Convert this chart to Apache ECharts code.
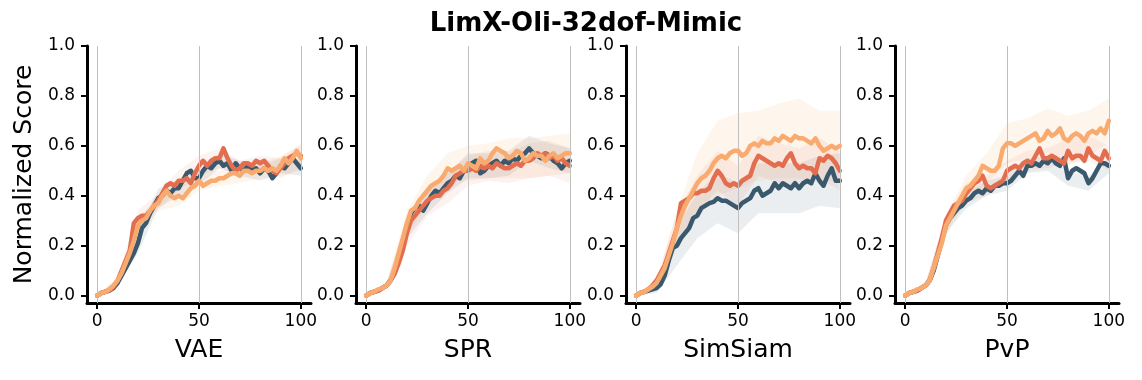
<!DOCTYPE html>
<html>
<head>
<meta charset="utf-8">
<script src="https://cdn.jsdelivr.net/npm/echarts@6/dist/echarts.min.js"></script>
<style>
  html, body { margin: 0; padding: 0; background: #fff; }
  #chart { width: 1142px; height: 380px; }
</style>
</head>
<body>
<div id="chart"></div>
<script>
// training progress (x) at which the curves are sampled
const steps = [0, 2, 4, 6, 8, 10, 12, 14, 16, 18, 20, 22, 24, 26, 28, 30, 32, 34, 36, 38, 40,
  42, 44, 46, 48, 50, 52, 54, 56, 58, 60, 62, 64, 66, 68, 70, 72, 74, 76, 78, 80,
  82, 84, 86, 88, 90, 92, 94, 96, 98, 100]
const bandSteps = [0, 10, 20, 30, 40, 50, 60, 70, 80, 90, 100]

const panels = ['VAE', 'SPR', 'SimSiam', 'PvP']
const xTicks = [0, 50, 100]
const yTicks = [0, 0.2, 0.4, 0.6, 0.8, 1.0]

// mean curves: dark, red, orange per panel
const vaeDark = [0, 0.01, 0.015, 0.02, 0.03, 0.05, 0.08, 0.11, 0.14, 0.17, 0.21, 0.27, 0.29, 0.33, 0.36, 0.39, 0.40, 0.42, 0.41, 0.43, 0.43,
  0.46, 0.49, 0.50, 0.47, 0.47, 0.50, 0.52, 0.51, 0.53, 0.54, 0.52, 0.53, 0.50, 0.53, 0.51, 0.50, 0.52, 0.50, 0.51, 0.49,
  0.51, 0.50, 0.47, 0.49, 0.52, 0.51, 0.53, 0.55, 0.53, 0.51]
const vaeRed = [0, 0.01, 0.015, 0.02, 0.035, 0.06, 0.10, 0.14, 0.18, 0.29, 0.31, 0.32, 0.32, 0.34, 0.36, 0.38, 0.41, 0.44, 0.45, 0.44, 0.46,
  0.46, 0.47, 0.45, 0.49, 0.52, 0.54, 0.52, 0.54, 0.55, 0.55, 0.59, 0.55, 0.52, 0.50, 0.51, 0.53, 0.53, 0.52, 0.54, 0.53,
  0.54, 0.52, 0.50, 0.49, 0.51, 0.53, 0.55, 0.56, 0.57, 0.56]
const vaeOrange = [0, 0.01, 0.015, 0.025, 0.04, 0.06, 0.09, 0.13, 0.17, 0.22, 0.28, 0.30, 0.31, 0.34, 0.36, 0.37, 0.40, 0.42, 0.40, 0.39, 0.40,
  0.39, 0.41, 0.43, 0.44, 0.46, 0.44, 0.45, 0.46, 0.46, 0.47, 0.47, 0.48, 0.49, 0.49, 0.48, 0.50, 0.50, 0.49, 0.50, 0.50,
  0.51, 0.50, 0.51, 0.50, 0.52, 0.55, 0.53, 0.55, 0.58, 0.55]

const sprDark = [0, 0.01, 0.015, 0.02, 0.03, 0.04, 0.06, 0.09, 0.14, 0.20, 0.27, 0.33, 0.35, 0.36, 0.34, 0.37, 0.40, 0.42, 0.41, 0.43, 0.45,
  0.46, 0.48, 0.47, 0.50, 0.52, 0.53, 0.54, 0.49, 0.50, 0.52, 0.53, 0.54, 0.52, 0.54, 0.53, 0.55, 0.54, 0.56, 0.57, 0.59,
  0.57, 0.56, 0.55, 0.57, 0.56, 0.54, 0.53, 0.51, 0.53, 0.54]
const sprRed = [0, 0.01, 0.015, 0.02, 0.03, 0.04, 0.06, 0.09, 0.13, 0.18, 0.25, 0.30, 0.32, 0.34, 0.36, 0.38, 0.39, 0.40, 0.40, 0.42, 0.43,
  0.45, 0.48, 0.49, 0.50, 0.50, 0.51, 0.50, 0.52, 0.51, 0.52, 0.51, 0.53, 0.52, 0.51, 0.51, 0.52, 0.53, 0.52, 0.54, 0.54,
  0.55, 0.57, 0.56, 0.57, 0.55, 0.56, 0.54, 0.55, 0.53, 0.52]
const sprOrange = [0, 0.01, 0.015, 0.025, 0.03, 0.04, 0.06, 0.11, 0.17, 0.23, 0.29, 0.34, 0.35, 0.38, 0.40, 0.42, 0.44, 0.45, 0.46, 0.48, 0.51,
  0.50, 0.51, 0.52, 0.50, 0.53, 0.52, 0.51, 0.55, 0.53, 0.54, 0.57, 0.59, 0.58, 0.57, 0.55, 0.56, 0.58, 0.57, 0.54, 0.55,
  0.57, 0.56, 0.56, 0.54, 0.56, 0.57, 0.55, 0.56, 0.57, 0.57]

const simDark = [0, 0.01, 0.015, 0.02, 0.025, 0.03, 0.045, 0.08, 0.14, 0.19, 0.20, 0.23, 0.25, 0.27, 0.31, 0.32, 0.35, 0.36, 0.37, 0.375, 0.39,
  0.38, 0.38, 0.37, 0.36, 0.35, 0.37, 0.38, 0.39, 0.42, 0.43, 0.40, 0.41, 0.42, 0.45, 0.43, 0.45, 0.44, 0.43, 0.45, 0.43,
  0.45, 0.46, 0.45, 0.49, 0.46, 0.44, 0.48, 0.51, 0.46, 0.46]
const simRed = [0, 0.01, 0.015, 0.025, 0.04, 0.06, 0.09, 0.12, 0.17, 0.22, 0.27, 0.37, 0.38, 0.39, 0.41, 0.41, 0.42, 0.42, 0.43, 0.47, 0.50,
  0.48, 0.45, 0.44, 0.45, 0.44, 0.46, 0.47, 0.48, 0.53, 0.56, 0.55, 0.54, 0.53, 0.52, 0.53, 0.52, 0.55, 0.57, 0.53, 0.51,
  0.52, 0.51, 0.51, 0.49, 0.55, 0.54, 0.56, 0.55, 0.53, 0.50]
const simOrange = [0, 0.01, 0.015, 0.025, 0.035, 0.05, 0.08, 0.11, 0.16, 0.21, 0.27, 0.32, 0.36, 0.39, 0.42, 0.45, 0.47, 0.48, 0.50, 0.53, 0.55,
  0.56, 0.55, 0.57, 0.58, 0.58, 0.56, 0.57, 0.60, 0.61, 0.60, 0.62, 0.61, 0.61, 0.63, 0.62, 0.64, 0.63, 0.62, 0.64, 0.63,
  0.63, 0.62, 0.61, 0.63, 0.60, 0.58, 0.59, 0.60, 0.59, 0.60]

const pvpDark = [0, 0.01, 0.015, 0.02, 0.03, 0.04, 0.06, 0.10, 0.16, 0.22, 0.28, 0.31, 0.33, 0.35, 0.36, 0.38, 0.39, 0.41, 0.42, 0.41, 0.43,
  0.42, 0.44, 0.44, 0.45, 0.45, 0.46, 0.48, 0.50, 0.48, 0.52, 0.52, 0.53, 0.52, 0.54, 0.53, 0.55, 0.53, 0.52, 0.55, 0.47,
  0.50, 0.51, 0.50, 0.49, 0.45, 0.47, 0.50, 0.53, 0.53, 0.52]
const pvpRed = [0, 0.01, 0.015, 0.02, 0.03, 0.04, 0.06, 0.11, 0.17, 0.23, 0.30, 0.33, 0.36, 0.37, 0.38, 0.41, 0.43, 0.45, 0.46, 0.48, 0.44,
  0.43, 0.44, 0.45, 0.46, 0.50, 0.51, 0.52, 0.51, 0.53, 0.54, 0.53, 0.56, 0.59, 0.55, 0.55, 0.56, 0.55, 0.54, 0.53, 0.58,
  0.55, 0.56, 0.56, 0.54, 0.59, 0.56, 0.55, 0.54, 0.58, 0.55]
const pvpOrange = [0, 0.01, 0.015, 0.025, 0.03, 0.04, 0.06, 0.11, 0.16, 0.21, 0.28, 0.31, 0.34, 0.37, 0.40, 0.43, 0.44, 0.46, 0.48, 0.52, 0.51,
  0.50, 0.50, 0.52, 0.59, 0.61, 0.61, 0.60, 0.61, 0.62, 0.63, 0.64, 0.65, 0.62, 0.63, 0.66, 0.64, 0.65, 0.67, 0.63, 0.62,
  0.64, 0.65, 0.64, 0.62, 0.65, 0.66, 0.65, 0.67, 0.65, 0.70]

// spread (half width of shaded band) at bandSteps
const vaeDarkStd = [0, 0.01, 0.04, 0.04, 0.03, 0.03, 0.03, 0.03, 0.03, 0.03, 0.03]
const vaeRedStd = [0, 0.01, 0.03, 0.03, 0.04, 0.04, 0.04, 0.03, 0.03, 0.04, 0.05]
const vaeOrangeStd = [0, 0.01, 0.03, 0.03, 0.04, 0.04, 0.03, 0.03, 0.03, 0.04, 0.05]
const sprDarkStd = [0, 0.01, 0.04, 0.04, 0.04, 0.05, 0.05, 0.05, 0.05, 0.05, 0.05]
const sprRedStd = [0, 0.01, 0.05, 0.06, 0.06, 0.06, 0.06, 0.06, 0.07, 0.07, 0.07]
const sprOrangeStd = [0, 0.01, 0.05, 0.06, 0.06, 0.07, 0.07, 0.08, 0.08, 0.08, 0.08]
const simDarkStd = [0, 0.02, 0.08, 0.09, 0.10, 0.10, 0.10, 0.10, 0.10, 0.10, 0.11]
const simRedStd = [0, 0.01, 0.06, 0.07, 0.08, 0.08, 0.08, 0.08, 0.08, 0.08, 0.08]
const simOrangeStd = [0, 0.01, 0.07, 0.12, 0.15, 0.15, 0.14, 0.15, 0.16, 0.14, 0.14]
const pvpDarkStd = [0, 0.01, 0.03, 0.03, 0.03, 0.03, 0.03, 0.03, 0.03, 0.03, 0.03]
const pvpRedStd = [0, 0.01, 0.03, 0.04, 0.04, 0.04, 0.04, 0.04, 0.05, 0.05, 0.05]
const pvpOrangeStd = [0, 0.01, 0.04, 0.05, 0.06, 0.08, 0.08, 0.09, 0.10, 0.09, 0.09]

const curves = [
  [vaeDark, vaeRed, vaeOrange],
  [sprDark, sprRed, sprOrange],
  [simDark, simRed, simOrange],
  [pvpDark, pvpRed, pvpOrange]
]
const spreads = [
  [vaeDarkStd, vaeRedStd, vaeOrangeStd],
  [sprDarkStd, sprRedStd, sprOrangeStd],
  [simDarkStd, simRedStd, simOrangeStd],
  [pvpDarkStd, pvpRedStd, pvpOrangeStd]
]

const lineColors = ['#3b596d', '#e36e4f', '#f9aa6e']
const bandColors = ['rgba(59,89,109,0.10)', 'rgba(227,110,79,0.09)', 'rgba(249,170,110,0.12)']
const font = 'DejaVu Sans'

const chart = echarts.init(document.getElementById('chart'))

const gridLefts = [87, 356, 626, 895]
const grids = gridLefts.map(left => ({
  left: left,
  top: 46,
  width: 224,
  height: 257,
  containLabel: false,
  outerBoundsMode: 'none'
}))

const xAxes = panels.map((name, i) => ({
  type: 'value',
  gridIndex: i,
  min: -5,
  max: 105,
  name: name,
  nameLocation: 'middle',
  nameGap: 35,
  nameTextStyle: { fontFamily: font, fontSize: 25, color: '#000' },
  axisLine: { show: true, onZero: false, lineStyle: { color: '#000', width: 3 } },
  axisTick: { show: true, customValues: xTicks, length: 6, lineStyle: { color: '#000', width: 2 } },
  axisLabel: { customValues: xTicks, fontFamily: font, fontSize: 17, color: '#000', margin: 10 },
  splitLine: { show: false }
}))

const yAxes = panels.map((name, i) => ({
  type: 'value',
  gridIndex: i,
  min: -0.03,
  max: 1.0,
  name: i === 0 ? 'Normalized Score' : '',
  nameLocation: 'middle',
  nameGap: 50,
  nameTextStyle: { fontFamily: font, fontSize: 25, color: '#000' },
  axisLine: { show: true, onZero: false, lineStyle: { color: '#000', width: 3 } },
  axisTick: { show: true, customValues: yTicks, length: 6, lineStyle: { color: '#000', width: 2 } },
  axisLabel: {
    customValues: yTicks,
    fontFamily: font,
    fontSize: 17,
    color: '#000',
    margin: 12,
    formatter: v => v.toFixed(1)
  },
  splitLine: { show: false }
}))

const series = []
curves.forEach((group, p) => {
  // vertical grid lines
  series.push({
    type: 'line',
    xAxisIndex: p,
    yAxisIndex: p,
    data: [],
    silent: true,
    z: 1,
    markLine: {
      silent: true,
      symbol: 'none',
      label: { show: false },
      lineStyle: { color: '#c0c0c0', width: 1, type: 'solid' },
      data: xTicks.map(x => ({ xAxis: x }))
    }
  })
  // shaded bands (mean +/- spread), drawn as one polygon through the axes
  group.forEach((mean, m) => {
    const std = spreads[p][m]
    series.push({
      type: 'custom',
      xAxisIndex: p,
      yAxisIndex: p,
      data: [[0, 0]],
      silent: true,
      z: 2,
      renderItem: (params, api) => {
        const upper = bandSteps.map((x, i) => api.coord([x, mean[steps.indexOf(x)] + std[i]]))
        const lower = bandSteps.map((x, i) => api.coord([x, mean[steps.indexOf(x)] - std[i]])).reverse()
        return {
          type: 'polygon',
          shape: { points: upper.concat(lower) },
          style: { fill: bandColors[m] }
        }
      }
    })
  })
  // mean lines
  group.forEach((mean, m) => {
    series.push({
      type: 'line',
      xAxisIndex: p,
      yAxisIndex: p,
      data: steps.map((x, i) => [x, mean[i]]),
      showSymbol: false,
      lineStyle: { color: lineColors[m], width: 4.5, join: 'round', cap: 'round' },
      z: 3 + m
    })
  })
})

const option = {
  animation: false,
  backgroundColor: '#fff',
  title: {
    text: 'LimX-Oli-32dof-Mimic',
    left: 581,
    top: 6,
    textAlign: 'center',
    textStyle: { fontFamily: font, fontSize: 26, fontWeight: 'bold', color: '#000' }
  },
  grid: grids,
  xAxis: xAxes,
  yAxis: yAxes,
  series: series
}

chart.setOption(option)
</script>
</body>
</html>
